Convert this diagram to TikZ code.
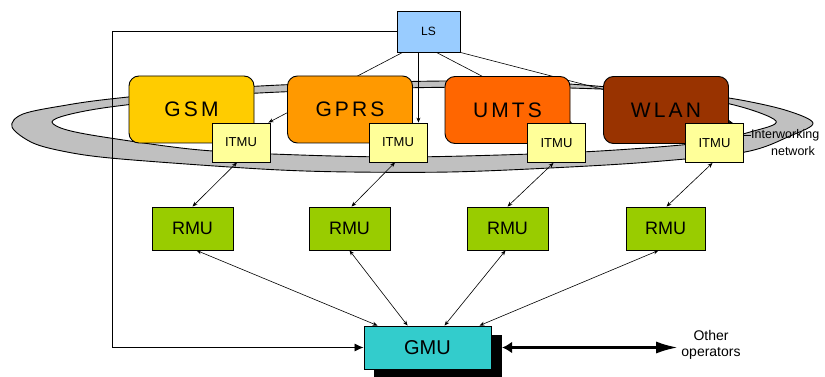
\documentclass[tikz,border=0pt]{standalone}
\usepackage{fontspec}
\setmainfont{Liberation Sans}
\newfontfamily\widefont[LetterSpace=15]{Liberation Sans}
\usetikzlibrary{arrows.meta,calc}
\definecolor{lsblue}{HTML}{99CCFF}
\definecolor{gsmyellow}{HTML}{FFCC00}
\definecolor{gprsorange}{HTML}{FF9900}
\definecolor{umtsorange}{HTML}{FF6600}
\definecolor{wlanbrown}{HTML}{993300}
\definecolor{itmuyellow}{HTML}{FFFF99}
\definecolor{rmugreen}{HTML}{99CC00}
\definecolor{gmucyan}{HTML}{33CCCC}
\definecolor{ringgray}{HTML}{C0C0C0}
\pgfdeclarelayer{ring}
\pgfdeclarelayer{wires}
\pgfsetlayers{ring,wires,main}
\begin{document}
\begin{tikzpicture}[x=1pt,y=-1pt,
  box/.style={draw=black, line width=0.9pt, inner sep=0pt},
  tech/.style={box, rounded corners=10pt, minimum width=125pt, minimum height=67pt,
               font=\widefont\fontsize{21}{24}\selectfont},
  itmubox/.style={box, fill=itmuyellow, minimum width=58pt, minimum height=39pt,
                  font=\fontsize{13}{15}\selectfont},
  rmubox/.style={box, fill=rmugreen, minimum width=81pt, minimum height=43pt,
                 font=\fontsize{18}{20}\selectfont},
  small/.style={font=\fontsize{14}{16}\selectfont, inner sep=0pt},
  link/.style={line width=0.6pt, -{Stealth[length=5pt,width=4pt]}},
  blink/.style={line width=0.6pt, {Stealth[length=5pt,width=4pt]}-{Stealth[length=5pt,width=4pt]}},
]
\useasboundingbox (0,0) rectangle (825,377);

% interworking network ring
\begin{pgfonlayer}{ring}
  \def\outerring{plot[smooth cycle, tension=0.55] coordinates {
    (12,127) (23,114) (67,105) (110,99) (200,90) (280,85) (350,83) (450,81)
    (550,83) (620,88) (690,94) (735,99) (785,110) (813,123) (790,136) (745,152)
    (650,162) (550,168) (450,172) (350,172) (280,170) (200,165) (110,158)
    (67,152) (33,143)}}
  \def\innerring{plot[smooth cycle, tension=0.55] coordinates {
    (52,122) (67,115) (110,107) (200,97) (280,92) (400,88) (500,87) (570,88)
    (650,92) (730,104) (776,121) (750,132) (700,143) (600,151) (500,155)
    (400,157) (300,155) (200,150) (110,138) (67,130)}}
  \fill[ringgray, even odd rule] \outerring \innerring;
  \draw[line width=0.9pt] \outerring;
  \draw[line width=0.9pt] \innerring;
\end{pgfonlayer}

% location server
\node[box, fill=lsblue, minimum width=63pt, minimum height=41pt,
      font=\fontsize{12}{14}\selectfont] (ls) at (428.5,31.5) {LS};

% access technologies
\node[tech, fill=gsmyellow]  (gsm)  at (191.5,109.5) {GSM};
\node[tech, fill=gprsorange] (gprs) at (350,109.5)   {GPRS};
\node[tech, fill=umtsorange] (umts) at (507.5,110)   {UMTS};
\node[tech, fill=wlanbrown]  (wlan) at (666,110)     {WLAN};

% interworking units
\node[itmubox] (itmu1) at (241,142.5)   {ITMU};
\node[itmubox] (itmu2) at (398,142.5)   {ITMU};
\node[itmubox] (itmu3) at (556.5,143)   {ITMU};
\node[itmubox] (itmu4) at (714.5,143)   {ITMU};

% regional mobility units
\node[rmubox] (rmu1) at (192.5,228.5) {RMU};
\node[rmubox] (rmu2) at (349.5,228.5) {RMU};
\node[rmubox] (rmu3) at (507.5,228.5) {RMU};
\node[rmubox, minimum width=79pt] (rmu4) at (665.5,228.5) {RMU};

% global mobility unit
\node[box, fill=gmucyan, minimum width=127pt, minimum height=43pt,
      font=\fontsize{20}{22}\selectfont] (gmu) at (427.5,347.5) {GMU};

% labels
\node[small, anchor=west, font=\fontsize{12.5}{15}\selectfont] (iw1) at (751,135) {Interworking};
\node[small, font=\fontsize{12.5}{15}\selectfont] (iw2) at (793,151) {network};
\node[small, align=center, font=\fontsize{14}{16.5}\selectfont] (oth) at (711,345) {Other\\operators};

\begin{pgfonlayer}{wires}
  % LS to each ITMU
  \draw[link] ($(ls.south west)+(6,0)$)  -- ($(itmu1.north east)+(-2,0)$);
  \draw[link] ($(ls.south)+(-10,0)$)     -- ($(itmu2.north east)+(-9,0)$);
  \draw[link] ($(ls.south)+(8,0)$)       -- ($(itmu3.north east)+(-14,0)$);
  \draw[link] (ls.south east)            -- ($(itmu4.north east)+(-11,0)$);
  % ITMU <-> RMU
  \draw[blink] ($(itmu1.south)+(-4,0)$) -- (rmu1.north);
  \draw[blink] ($(itmu2.south)+(-3,0)$) -- ($(rmu2.north)+(2,0)$);
  \draw[blink] ($(itmu3.south)+(-3,0)$) -- (rmu3.north);
  \draw[blink] ($(itmu4.south)+(-2,0)$) -- ($(rmu4.north)+(1,0)$);
  % RMU <-> GMU
  \draw[blink] ($(rmu1.south)+(4,0)$)  -- ($(gmu.north west)+(14,0)$);
  \draw[blink] (rmu2.south)            -- ($(gmu.north west)+(44,0)$);
  \draw[blink] ($(rmu3.south)+(-2,0)$) -- ($(gmu.north west)+(81,0)$);
  \draw[blink] ($(rmu4.south)+(-7,0)$) -- ($(gmu.north west)+(116,0)$);
  % LS feedback loop to GMU
  \coordinate (fbx) at (112,0);
  \draw[line width=0.8pt, -{Latex[length=9pt,width=8pt]}]
    (ls.west) -| (fbx |- gmu.west) -- (gmu.west);
  % GMU shadow and link to other operators
  \node[fill=black, inner sep=0pt, minimum width=128pt, minimum height=43pt]
    (gmushadow) at ($(gmu)+(10.5,9)$) {};
  \draw[line width=3pt, {Latex[length=10pt,width=12pt]}-{Latex[length=22pt,width=12pt]}]
    (gmushadow.east |- gmu.east) -- ($(oth.west |- gmu.east)+(-3,0)$);
  % callout to the ring label
  \draw[line width=0.8pt] (itmu4.east |- iw1.west) -- (iw1.west);
\end{pgfonlayer}
\end{tikzpicture}
\end{document}
